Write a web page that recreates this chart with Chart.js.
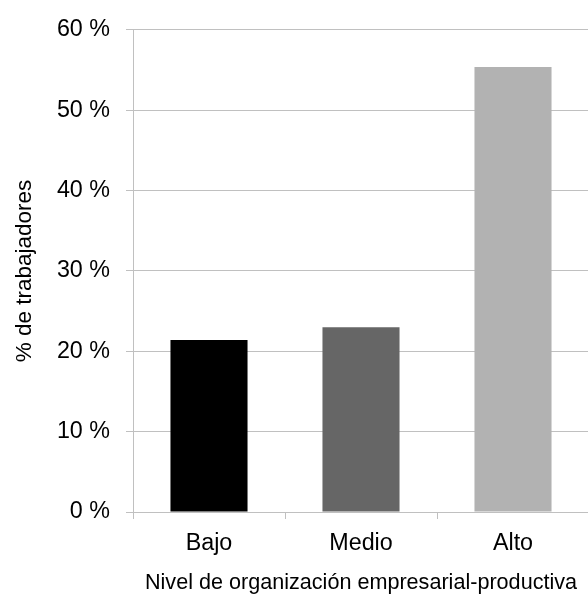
<!DOCTYPE html>
<html>
<head>
<meta charset="utf-8">
<script src="https://cdn.jsdelivr.net/npm/chart.js@4"></script>
<style>
  html, body { margin: 0; padding: 0; background: #fff; overflow: hidden; }
  #wrap { width: 590px; height: 594px; position: relative; }
</style>
</head>
<body>
<div id="wrap"><canvas id="chart"></canvas></div>
<script>
// Data
const categories = ["Bajo", "Medio", "Alto"];
const shares = [21.4, 23.0, 55.4];
const barColors = ["#000000", "#666666", "#b2b2b2"];
const yTicks = [0, 10, 20, 30, 40, 50, 60];

const gridGray = "#c0c0c0";
const font = "'Liberation Sans', Arial, sans-serif";

new Chart(document.getElementById("chart"), {
    type: "bar",
    data: {
        labels: categories,
        datasets: [{
            data: shares,
            backgroundColor: barColors,
            borderWidth: 0,
            barPercentage: 0.507,
            categoryPercentage: 1
        }]
    },
    options: {
        responsive: true,
        maintainAspectRatio: false,
        animation: false,
        layout: { padding: { top: 28, right: 1, left: 0, bottom: 0 } },
        plugins: {
            legend: { display: false },
            tooltip: { enabled: false }
        },
        scales: {
            x: {
                offset: true,
                grid: {
                    offset: true,
                    drawOnChartArea: false,
                    drawTicks: true,
                    tickLength: 7,
                    color: gridGray
                },
                border: { color: gridGray },
                ticks: {
                    color: "#000",
                    padding: 11,
                    font: { family: font, size: 23.3 }
                },
                title: {
                    display: true,
                    text: "Nivel de organización empresarial-productiva",
                    color: "#000",
                    font: { family: font, size: 21.6 },
                    padding: { top: 0, bottom: -2 }
                },
                afterFit: axis => { axis.height = 82; }
            },
            y: {
                min: 0,
                max: 60,
                afterBuildTicks: axis => {
                    axis.ticks = yTicks.map(v => ({ value: v }));
                },
                grid: {
                    color: gridGray,
                    tickLength: 7
                },
                border: { color: gridGray },
                ticks: {
                    color: "#000",
                    padding: 16,
                    font: { family: font, size: 23.3 },
                    callback: v => v + " %"
                },
                title: {
                    display: true,
                    text: "% de trabajadores",
                    color: "#000",
                    font: { family: font, size: 22.5 },
                    padding: { top: 11, bottom: 0 }
                },
                afterFit: axis => { axis.width = 133; }
            }
        }
    }
});
</script>
</body>
</html>
